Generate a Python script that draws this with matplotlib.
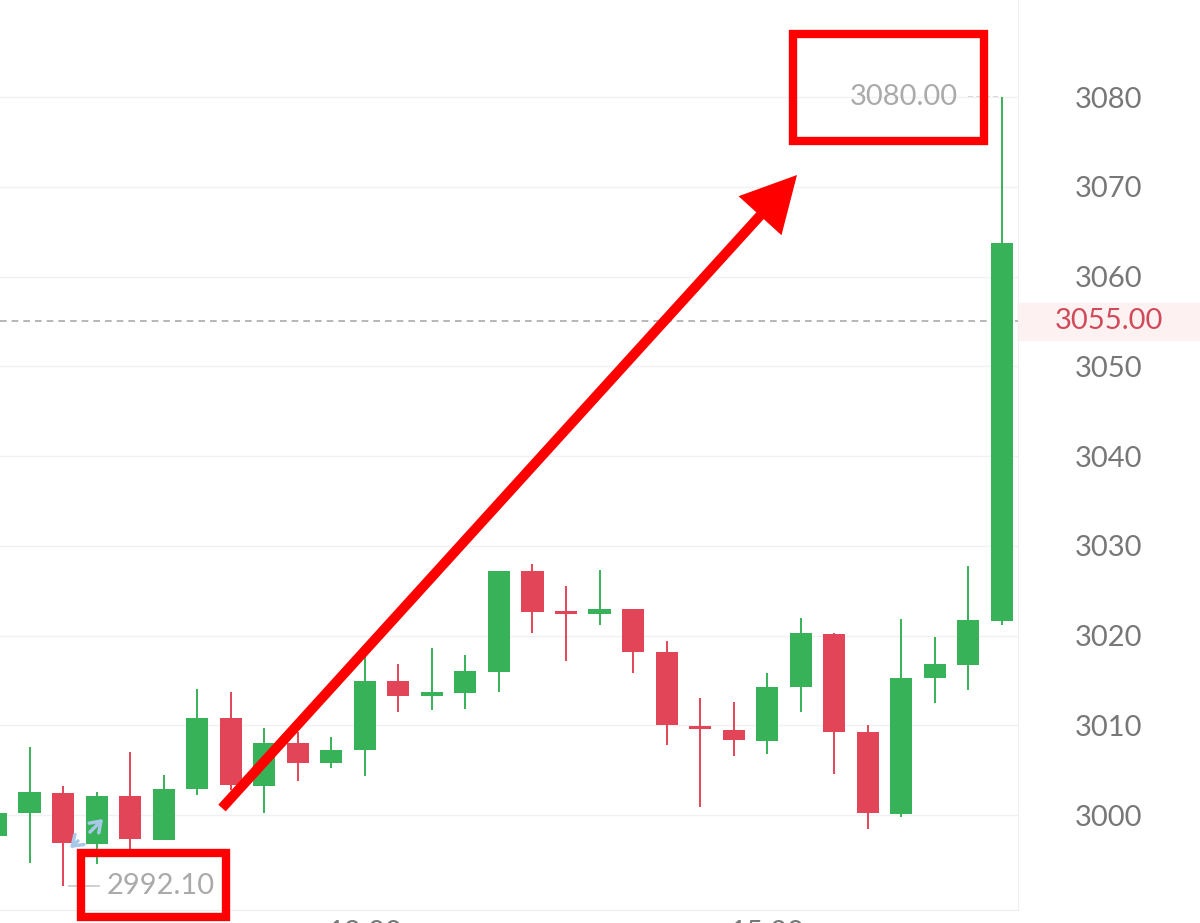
import matplotlib
matplotlib.use('Agg')
import matplotlib.pyplot as plt
from matplotlib import transforms
from matplotlib.patches import Rectangle, FancyArrow

plt.rcParams['font.family'] = ['Lato', 'DejaVu Sans']

# 15-minute candles
opens = [2997.7, 3000.2, 3002.5, 2996.8, 3002.1, 2997.2, 3002.9, 3010.8, 3003.2, 3008.0, 3005.8,
         3007.2, 3014.9, 3013.3, 3013.6, 3015.9, 3027.2, 3022.6, 3022.4, 3023.0, 3018.2, 3009.9,
         3009.5, 3008.2, 3014.3, 3020.2, 3009.2, 3000.1, 3015.3, 3016.7, 3021.6]
closes = [3000.2, 3002.6, 2996.9, 3002.1, 2997.3, 3002.9, 3010.8, 3003.3, 3008.0, 3005.8, 3007.2,
          3014.9, 3013.3, 3013.7, 3016.0, 3027.2, 3022.6, 3022.4, 3023.0, 3018.2, 3010.0, 3009.6,
          3008.4, 3014.3, 3020.3, 3009.2, 3000.2, 3015.3, 3016.8, 3021.7, 3063.7]
highs = [3000.5, 3007.6, 3003.2, 3002.6, 3007.0, 3004.5, 3014.0, 3013.7, 3009.7, 3009.2, 3008.7,
         3017.6, 3016.8, 3018.6, 3017.8, 3027.2, 3028.0, 3025.5, 3027.3, 3023.0, 3019.4, 3013.0,
         3012.6, 3015.8, 3022.0, 3020.3, 3010.0, 3021.8, 3019.8, 3027.7, 3080.0]
lows = [2997.0, 2994.7, 2992.1, 2994.5, 2995.3, 2997.2, 3002.2, 3002.8, 3000.2, 3003.8, 3005.2,
        3004.3, 3011.5, 3011.7, 3011.8, 3013.7, 3020.3, 3017.2, 3021.2, 3015.8, 3007.8, 3000.9,
        3006.6, 3006.8, 3011.5, 3004.6, 2998.4, 2999.8, 3012.5, 3013.9, 3021.2]

yticks = [3000, 3010, 3020, 3030, 3040, 3050, 3060, 3070, 3080]
time_pos = [11, 23]
time_labels = ['12:00', '15:00']
last_price = 3055.00

green = '#38b258'
red = '#e24558'

fig = plt.figure(figsize=(12, 9.23), dpi=100)
ax = fig.add_axes([0, 13 / 923, 1018 / 1200, 910 / 923])

x = list(range(len(opens)))
cols = [green if c >= o else red for o, c in zip(opens, closes)]
bottoms = [min(o, c) for o, c in zip(opens, closes)]
heights = [max(abs(c - o), 0.35) for o, c in zip(opens, closes)]

ax.vlines(x, lows, highs, colors=cols, lw=1.4, zorder=2)
ax.bar(x, heights, bottom=bottoms, width=0.66, color=cols, zorder=3)

ax.set_xlim(0.12, 30.48)
ax.set_ylim(2989.42, 3090.81)

ax.set_yticks(yticks)
ax.yaxis.tick_right()
ax.tick_params(axis='y', length=0, pad=41, labelsize=21, labelcolor='#777777')
ax.set_xticks(time_pos)
ax.set_xticklabels(time_labels)
ax.tick_params(axis='x', length=0, pad=7, labelsize=21, labelcolor='#777777')
ax.grid(axis='y', color='#f1f1f1', lw=1, zorder=0)
for s in ['top', 'left']:
    ax.spines[s].set_visible(False)
ax.spines['bottom'].set_color('#eeeeee')
ax.spines['right'].set_color('#f0f0f0')

# current price line and tag
ax.axhline(last_price, color='#aaaaaa', lw=1.2, ls=(0, (4, 3)), zorder=1)
trans = transforms.blended_transform_factory(ax.transAxes, ax.transData)
ax.add_patch(Rectangle((1.0, last_price - 2.05), 0.18, 4.1, transform=trans,
                       color='#fdf1f1', clip_on=False, zorder=0))
ax.text(1.0894, last_price, '%.2f' % last_price, transform=trans, ha='center', va='center',
        fontsize=21, color='#d04a5a')

# high / low markers
i_hi = highs.index(max(highs))
i_lo = lows.index(min(lows))
ax.plot([i_hi - 1.0, i_hi], [highs[i_hi]] * 2, color='#c8c8c8', lw=1.2, ls=(0, (3, 2)), zorder=1)
ax.text(i_hi - 1.3, highs[i_hi], '%.2f' % highs[i_hi], ha='right', va='center',
        fontsize=21, color='#aaaaaa')
ax.plot([i_lo + 0.18, i_lo + 1.07], [lows[i_lo]] * 2, color='#c8c8c8', lw=1.2, zorder=1)
ax.text(i_lo + 1.31, lows[i_lo], '%.2f' % lows[i_lo], ha='left', va='center',
        fontsize=21, color='#aaaaaa')

# red annotations drawn on top, in pixel coordinates
ov = fig.add_axes([0, 0, 1, 1], zorder=10)
ov.set_xlim(0, 1200)
ov.set_ylim(923, 0)
ov.axis('off')
ov.patch.set_alpha(0)

ov.annotate('', xy=(105, 817), xytext=(88, 834),
            arrowprops=dict(arrowstyle='->,head_length=0.5,head_width=0.35', color='#a8c8e8',
                            lw=2.5, mutation_scale=14))
ov.annotate('', xy=(68, 850), xytext=(80, 839),
            arrowprops=dict(arrowstyle='->,head_length=0.5,head_width=0.35', color='#a8c8e8',
                            lw=2.5, mutation_scale=14))

ov.add_patch(Rectangle((81, 853), 145, 64, fill=False, edgecolor='#ff0000', lw=6))
ov.add_patch(Rectangle((792.5, 34), 191, 106.5, fill=False, edgecolor='#ff0000', lw=6))
ov.add_patch(FancyArrow(222, 808, 575, -633, width=10, head_width=58, head_length=55,
                        length_includes_head=True, color='#ff0000', lw=0))

fig.savefig('out.png', dpi=100)
